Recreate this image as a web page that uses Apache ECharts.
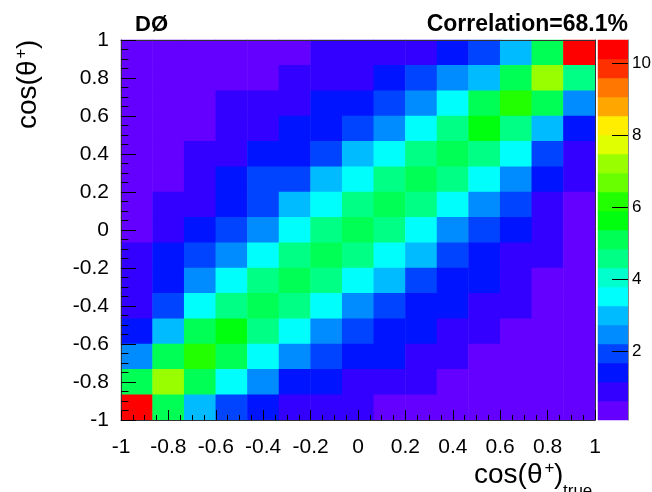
<!DOCTYPE html>
<html>
<head>
<meta charset="utf-8">
<script src="https://cdn.jsdelivr.net/npm/echarts@6/dist/echarts.min.js"></script>
<style>
  html, body { margin: 0; padding: 0; background: #fff; }
  #main { width: 652px; height: 492px; }
</style>
</head>
<body>
<div id="main"></div>
<script>
// 15 equal bins in cos(theta+) on both axes
var binEdges = [-1, -0.8667, -0.7333, -0.6, -0.4667, -0.3333, -0.2, -0.0667,
                0.0667, 0.2, 0.3333, 0.4667, 0.6, 0.7333, 0.8667, 1];

// bin contents, one row per reconstructed bin, top row (0.87..1) first,
// columns run from cos(theta+)_true = -1 to 1
var counts = [
  [0.3, 0.3, 0.3, 0.3, 0.3, 0.3, 0.9, 0.9, 0.9, 0.9, 1.4, 1.9, 3.0, 5.1, 10.6],
  [0.3, 0.3, 0.3, 0.3, 0.3, 0.9, 0.9, 0.9, 1.4, 1.9, 2.5, 3.0, 5.1, 7.2, 4.6],
  [0.3, 0.3, 0.3, 0.9, 0.9, 0.9, 1.4, 1.4, 1.9, 2.5, 3.5, 5.1, 6.2, 5.1, 2.5],
  [0.3, 0.3, 0.3, 0.9, 0.9, 1.4, 1.4, 1.9, 2.5, 3.5, 4.6, 5.6, 4.6, 3.0, 1.4],
  [0.3, 0.3, 0.9, 0.9, 1.4, 1.4, 1.9, 3.0, 3.5, 4.6, 5.1, 4.6, 3.5, 1.9, 0.9],
  [0.3, 0.3, 0.9, 1.4, 1.9, 1.9, 3.0, 3.5, 4.6, 5.1, 4.6, 3.5, 2.5, 1.4, 0.9],
  [0.3, 0.9, 0.9, 1.4, 1.9, 3.0, 3.5, 4.6, 5.1, 4.6, 3.5, 2.5, 1.9, 0.9, 0.3],
  [0.3, 0.9, 1.4, 1.9, 2.5, 3.5, 4.6, 5.1, 4.6, 3.5, 2.5, 1.9, 1.4, 0.9, 0.3],
  [0.9, 1.4, 1.9, 2.5, 3.5, 4.6, 5.1, 4.6, 3.5, 3.0, 1.9, 1.4, 0.9, 0.9, 0.3],
  [0.9, 1.4, 2.5, 3.5, 4.6, 5.1, 4.6, 3.5, 3.0, 1.9, 1.4, 1.4, 0.9, 0.3, 0.3],
  [0.9, 1.9, 3.5, 4.6, 5.1, 4.6, 3.5, 2.5, 1.9, 1.4, 1.4, 0.9, 0.9, 0.3, 0.3],
  [1.4, 3.0, 5.1, 5.6, 4.6, 3.5, 2.5, 1.9, 1.4, 1.4, 0.9, 0.9, 0.3, 0.3, 0.3],
  [2.5, 5.1, 6.2, 5.1, 3.5, 2.5, 1.9, 1.4, 1.4, 0.9, 0.9, 0.3, 0.3, 0.3, 0.3],
  [5.1, 7.2, 5.1, 3.5, 2.5, 1.4, 1.4, 0.9, 0.9, 0.9, 0.3, 0.3, 0.3, 0.3, 0.3],
  [10.6, 5.1, 3.0, 1.9, 1.4, 0.9, 0.9, 0.9, 0.3, 0.3, 0.3, 0.3, 0.3, 0.3, 0.3]
];

// z scale of the palette
var zMin = 0.08;
var zMax = 10.65;
var zTicks = [2, 4, 6, 8, 10];
// 20 contour colours (violet -> red)
var palette = ['#6300ff', '#3300ff', '#0014ff', '#0044ff', '#008bff',
               '#00bbff', '#00fffc', '#00ffcc', '#00ff85', '#00ff55',
               '#00ff0e', '#22ff00', '#69ff00', '#99ff00', '#e0ff00',
               '#ffee00', '#ffa700', '#ff7700', '#ff3000', '#ff0000'];

var FONT = '"Liberation Sans", Arial, Helvetica, sans-serif';

var nLev = palette.length;
var step = (zMax - zMin) / nLev;
var pieces = [], levelCats = [], barCells = [];
for (var k = 0; k < nLev; k++) {
  var lo = zMin + k * step;
  var p = { gte: lo, color: palette[k] };
  if (k < nLev - 1) p.lt = lo + step; else p.lte = zMax;
  pieces.push(p);
  levelCats.push(String(k));
  barCells.push([0, k, lo + step / 2]);
}

var binCats = [];
for (var i = 0; i < binEdges.length - 1; i++) {
  binCats.push(((binEdges[i] + binEdges[i + 1]) / 2).toFixed(3));
}
var cells = [];
counts.forEach(function (row, r) {
  row.forEach(function (v, c) {
    cells.push([c, counts.length - 1 - r, v]);
  });
});

var frame = { show: true, onZero: false, lineStyle: { color: '#333', width: 1 } };
function frameAxis(grid, pos) {
  return {
    type: 'value', gridIndex: grid, position: pos, min: -1, max: 1, z: 10,
    axisLine: frame, axisTick: { show: false }, axisLabel: { show: false },
    splitLine: { show: false }
  };
}

var myChart = echarts.init(document.getElementById('main'));
myChart.setOption({
  animation: false,
  textStyle: { fontFamily: FONT },
  grid: [
    { left: 121, top: 40, width: 474, height: 380, outerBoundsMode: 'none' },
    { left: 121, top: 40, width: 474, height: 380, outerBoundsMode: 'none' },
    { left: 598, top: 40, width: 30, height: 380, outerBoundsMode: 'none' }
  ],
  xAxis: [
    { type: 'category', gridIndex: 0, data: binCats, show: false },
    {
      type: 'value', gridIndex: 1, position: 'bottom', min: -1, max: 1, interval: 0.2, z: 10,
      axisLine: frame,
      axisTick: { show: true, inside: true, length: 10, lineStyle: { color: '#000' } },
      minorTick: { show: true, splitNumber: 4, length: 5, lineStyle: { color: '#000' } },
      axisLabel: { fontSize: 21, color: '#000', margin: 17, fontFamily: FONT },
      splitLine: { show: false }
    },
    frameAxis(1, 'top'),
    { type: 'category', gridIndex: 2, data: ['z'], show: false }
  ],
  yAxis: [
    { type: 'category', gridIndex: 0, data: binCats, show: false },
    {
      type: 'value', gridIndex: 1, position: 'left', min: -1, max: 1, interval: 0.2, z: 10,
      axisLine: frame,
      axisTick: { show: true, inside: true, length: 15, lineStyle: { color: '#000' } },
      minorTick: { show: true, splitNumber: 4, length: 7.5, lineStyle: { color: '#000' } },
      axisLabel: { fontSize: 21, color: '#000', margin: 12, padding: [8, 0, 0, 0],
                   fontFamily: FONT },
      splitLine: { show: false }
    },
    frameAxis(1, 'right'),
    { type: 'category', gridIndex: 2, data: levelCats, show: false },
    {
      type: 'value', gridIndex: 2, position: 'right', min: zMin, max: zMax, z: 10,
      axisLine: { show: true, onZero: false, lineStyle: { color: '#888', width: 1 } },
      axisTick: { show: true, inside: true, length: 16, customValues: zTicks,
                  lineStyle: { color: '#000' } },
      axisLabel: { fontSize: 17, color: '#000', margin: 4, customValues: zTicks,
                   fontFamily: FONT },
      splitLine: { show: false }
    }
  ],
  visualMap: {
    type: 'piecewise', show: false, seriesIndex: [0, 1], dimension: 2,
    pieces: pieces
  },
  series: [
    {
      type: 'heatmap', xAxisIndex: 0, yAxisIndex: 0, data: cells,
      itemStyle: { borderWidth: 0 },
      emphasis: { disabled: true }
    },
    {
      type: 'heatmap', xAxisIndex: 3, yAxisIndex: 3, data: barCells,
      itemStyle: { borderWidth: 0 },
      emphasis: { disabled: true }
    }
  ],
  graphic: [
    { type: 'text', x: 135, y: 24.9,
      style: { text: 'DØ', fill: '#000', font: 'bold 22px ' + FONT, verticalAlign: 'middle' } },
    { type: 'text', x: 628, y: 24.6,
      style: { text: 'Correlation=68.1%', fill: '#000', font: 'bold 23px ' + FONT,
               align: 'right', verticalAlign: 'middle' } },
    // x axis title
    { type: 'group', x: 474, y: 484, children: [
      { type: 'text', x: 0, y: -8.7,
        style: { text: 'cos(θ', fill: '#000', font: '28px ' + FONT, verticalAlign: 'middle' } },
      { type: 'text', x: 70.5, y: -15.3,
        style: { text: '+', fill: '#000', font: '17px ' + FONT, verticalAlign: 'middle' } },
      { type: 'text', x: 80, y: -8.7,
        style: { text: ')', fill: '#000', font: '28px ' + FONT, verticalAlign: 'middle' } },
      { type: 'text', x: 89, y: 7.7,
        style: { text: 'true', fill: '#000', font: '17px ' + FONT, verticalAlign: 'middle' } }
    ] },
    // y axis title, reading upwards
    { type: 'group', x: 37, y: 129, rotation: Math.PI / 2, children: [
      { type: 'text', x: 0, y: -8.7,
        style: { text: 'cos(θ', fill: '#000', font: '28px ' + FONT, verticalAlign: 'middle' } },
      { type: 'text', x: 70.5, y: -15.3,
        style: { text: '+', fill: '#000', font: '17px ' + FONT, verticalAlign: 'middle' } },
      { type: 'text', x: 80, y: -8.7,
        style: { text: ')', fill: '#000', font: '28px ' + FONT, verticalAlign: 'middle' } }
    ] }
  ]
});
</script>
</body>
</html>
